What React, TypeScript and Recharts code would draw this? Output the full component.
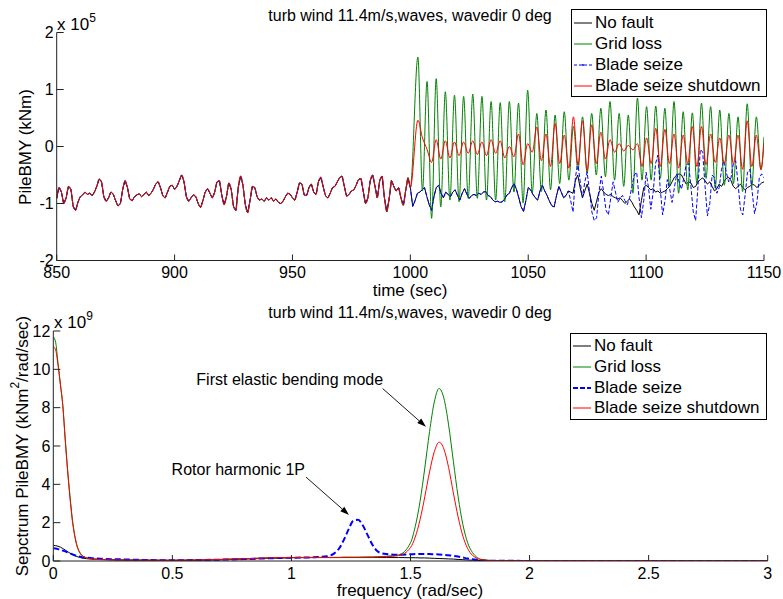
import { LineChart, Line, XAxis, YAxis, ReferenceLine, ReferenceDot } from 'recharts';

const FONT = '"Liberation Sans", Arial, Helvetica, sans-serif';
const AXIS = '#222';

// ---------- top plot: PileBMY time history (x 1e5 kNm) ----------
const timeTicks = [850, 900, 950, 1000, 1050, 1100, 1150];
const momentTicks = [-2, -1, 0, 1, 2];

// common signal before the fault, one sample per second from 850 s to 1000 s
const sampleStart = 850;
const preFault = [
  -0.91, -0.72, -0.8, -1.0, -0.9, -0.7, -0.75, -1.05, -1.12, -0.98,
  -0.88, -0.85, -0.8, -0.84, -0.82, -0.86, -0.8, -0.7, -0.57, -0.62,
  -0.88, -0.96, -0.9, -0.8, -0.84, -0.95, -1.04, -1.0, -0.75, -0.6,
  -0.72, -0.92, -0.95, -0.88, -0.85, -0.83, -0.88, -0.84, -0.8, -0.86,
  -0.82, -0.75, -0.66, -0.62, -0.72, -0.86, -0.9, -0.8, -0.7, -0.68,
  -0.75, -0.7, -0.6, -0.5, -0.62, -0.88, -0.96, -0.9, -0.85, -0.88,
  -1.0, -1.07, -0.95, -0.8, -0.74, -0.82, -0.9, -0.8, -0.62, -0.6,
  -0.85, -1.02, -0.88, -0.64, -0.75, -1.05, -1.12, -0.72, -0.52, -0.68,
  -1.02, -1.16, -0.95, -0.7, -0.72, -0.88, -0.94, -0.92, -0.96, -0.9,
  -0.94, -0.9, -0.96, -0.92, -0.98, -1.0, -0.96, -0.88, -0.82, -0.84,
  -0.9, -0.94, -0.8, -0.64, -0.66, -0.85, -0.86, -0.72, -0.66, -0.8,
  -0.84, -0.62, -0.54, -0.7, -0.86, -0.9, -0.82, -0.72, -0.7, -0.62,
  -0.55, -0.52, -0.7, -0.87, -0.84, -0.78, -0.76, -0.68, -0.58, -0.56,
  -0.78, -1.0, -0.9, -0.6, -0.5, -0.7, -0.9, -0.6, -0.52, -0.9,
  -1.14, -0.92, -0.6, -0.7, -0.78, -0.72, -0.9, -1.03, -0.78, -0.55,
  -0.72,
];

// no fault, 1001 s .. 1150 s
const noFaultAfter = [
  -1.05, -0.95, -0.82, -0.8, -0.76, -0.72, -0.88, -1.02, -1.12, -0.88,
  -0.72, -0.68, -0.82, -0.9, -0.8, -0.84, -0.88, -0.8, -0.76, -0.86,
  -0.94, -0.82, -0.74, -0.84, -0.91, -0.86, -0.84, -0.86, -0.82, -0.84,
  -0.8, -0.79, -0.86, -0.88, -0.94, -0.97, -0.96, -0.98, -0.97, -0.92,
  -0.85, -0.82, -0.72, -0.65, -0.75, -0.9, -1.06, -1.14, -0.95, -0.72,
  -0.76, -0.84, -0.9, -0.94, -0.78, -0.68, -0.78, -0.86, -0.96, -1.04,
  -1.06, -0.86, -0.7, -0.8, -0.9, -0.86, -0.78, -0.8, -0.82, -0.6,
  -0.5, -0.72, -0.9, -0.78, -0.66, -0.82, -1.0, -1.12, -0.96, -0.8,
  -0.74, -0.8, -0.84, -0.86, -0.84, -0.88, -0.9, -0.92, -0.9, -0.95,
  -1.0, -0.96, -0.92, -0.98, -1.06, -1.12, -1.2, -0.95, -0.72, -0.68,
  -0.72, -0.76, -0.74, -0.8, -0.78, -0.82, -0.8, -0.78, -0.74, -0.7,
  -0.62, -0.54, -0.5, -0.48, -0.5, -0.58, -0.66, -0.62, -0.64, -0.72,
  -0.7, -0.62, -0.58, -0.55, -0.6, -0.66, -0.62, -0.7, -0.78, -0.74,
  -0.66, -0.7, -0.62, -0.56, -0.54, -0.6, -0.7, -0.74, -0.7, -0.66,
  -0.72, -0.76, -0.72, -0.7, -0.66, -0.68, -0.72, -0.68, -0.64, -0.62,
];

// blade seize follows no fault until 1067 s, then 1068 s .. 1150 s
const bladeSeizeFrom = 1068;
const bladeSeizeAfter = [
  -0.95, -1.15, -0.55, -0.28, -0.6, -0.9, -0.62, -0.45, -0.8, -1.15,
  -1.3, -1.25, -0.8, -0.52, -0.8, -1.12, -1.2, -0.9, -0.62, -0.8,
  -0.98, -0.9, -0.86, -0.95, -1.02, -0.9, -0.7, -0.5, -0.45, -0.9,
  -1.25, -0.95, -0.45, -0.72, -1.1, -0.8, -0.3, -0.15, -0.75, -1.2,
  -0.95, -0.58, -0.75, -0.98, -0.72, -0.48, -0.62, -0.75, -0.55, -0.32,
  -0.3, -0.7, -1.15, -1.3, -0.7, -0.05, -0.1, -0.7, -1.22, -1.0,
  -0.5, -0.55, -0.82, -0.72, -0.4, -0.25, -0.45, -0.62, -0.55, -0.3,
  -0.25, -0.65, -1.1, -1.2, -0.85, -0.45, -0.4, -0.8, -1.18, -0.98,
  -0.55, -0.48, -0.55,
];

// grid loss / shutdown swing: extremes every half period of the first bending mode
const swingStart = 1003.2;
const swingHalfPeriod = 1.94;
const gridLossPeaks = [
  1.57, 1.14, 1.19, 0.96, 0.9, 0.88, 0.92, 0.88, 0.79, 0.77,
  0.79, 0.76, 0.99, 0.58, 0.64, 0.55, 0.61, 0.35, 0.52, 0.58,
  0.67, 0.79, 0.58, 0.55, 0.85, 0.7, 0.71, 0.67, 0.79, 0.61,
  0.59, 0.76, 0.7, 0.64, 0.58, 0.52, 0.75, 0.52,
];
const gridLossTroughs = [
  -0.78, -1.26, -1.06, -0.94, -0.97, -0.91, -0.91, -0.94, -0.94, -0.97,
  -0.8, -0.99, -0.82, -0.79, -0.76, -0.65, -0.59, -0.41, -0.47, -0.5,
  -0.53, -0.59, -0.7, -0.82, -0.59, -0.59, -0.56, -0.7, -0.82, -0.76,
  -0.65, -0.56, -0.73, -0.68, -0.65, -0.79, -0.7, -0.41,
];
const gridLossEnd = 0.17;
const shutdownPeaks = [
  0.46, -0.05, 0.12, 0.1, 0.08, 0.08, 0.1, 0.08, 0.12, 0.1,
  0.0, 0.22, 0.05, 0.34, 0.22, 0.4, 0.2, 0.52, 0.45, 0.38,
  0.25, 0.12, 0.05, 0.02, 0.05, 0.15, 0.32, 0.3, 0.22, 0.2,
  0.35, 0.35, 0.22, 0.15, 0.2, 0.2, 0.45, 0.2,
];
const shutdownTroughs = [
  0.15, -0.28, -0.22, -0.2, -0.16, -0.12, -0.14, -0.16, -0.12, -0.2,
  -0.18, -0.32, -0.1, -0.25, -0.35, -0.3, -0.38, -0.32, -0.42, -0.3,
  -0.22, -0.1, -0.08, -0.06, -0.35, -0.3, -0.35, -0.3, -0.38, -0.3,
  -0.35, -0.32, -0.28, -0.3, -0.3, -0.4, -0.35, -0.4,
];
const shutdownEnd = 0.05;

// ---------- bottom plot: spectrum (x 1e9 kNm^2/rad/sec) ----------
const freqTicks = [0, 0.5, 1, 1.5, 2, 2.5, 3];
const spectrumTicks = [0, 2, 4, 6, 8, 10, 12];
const freq = [
  0, 0.01, 0.02, 0.03, 0.04, 0.05, 0.06, 0.07, 0.08, 0.09, 0.1, 0.11, 0.12, 0.14, 0.16, 0.2,
  0.3, 0.4, 0.5, 0.6, 0.7, 0.8, 0.9, 1.0, 1.1, 1.15, 1.18, 1.2, 1.22, 1.24, 1.26, 1.28, 1.3,
  1.32, 1.34, 1.36, 1.38, 1.4, 1.45, 1.5, 1.52, 1.54, 1.56, 1.58, 1.6, 1.62, 1.64, 1.66, 1.68,
  1.7, 1.72, 1.74, 1.76, 1.8, 1.85, 1.9, 2.0, 2.5, 3.0,
];
const specNoFault = [
  0.82, 0.8, 0.77, 0.72, 0.65, 0.57, 0.49, 0.41, 0.34, 0.28, 0.23, 0.19, 0.16, 0.12, 0.1, 0.08,
  0.05, 0.04, 0.03, 0.04, 0.06, 0.1, 0.14, 0.17, 0.18, 0.18, 0.18, 0.18, 0.18, 0.18, 0.18, 0.18, 0.18,
  0.18, 0.18, 0.18, 0.18, 0.18, 0.18, 0.17, 0.17, 0.16, 0.16, 0.15, 0.14, 0.13, 0.12, 0.11, 0.1,
  0.08, 0.07, 0.05, 0.04, 0.02, 0.01, 0.01, 0.005, 0.003, 0.003,
];
const specGridLoss = [
  11.7, 11.4, 10.3, 9.2, 8.1, 6.4, 4.8, 3.4, 2.2, 1.35, 0.8, 0.48, 0.3, 0.17, 0.12, 0.08,
  0.05, 0.04, 0.04, 0.05, 0.08, 0.12, 0.16, 0.18, 0.19, 0.19, 0.19, 0.19, 0.2, 0.2, 0.2, 0.2, 0.2,
  0.21, 0.21, 0.22, 0.23, 0.25, 0.32, 0.95, 1.8, 3.1, 4.85, 6.75, 8.3, 9.0, 8.5, 7.1, 5.2,
  3.35, 1.9, 0.95, 0.45, 0.08, 0.02, 0.01, 0.01, 0.005, 0.005,
];
const specBladeSeize = [
  0.66, 0.65, 0.62, 0.58, 0.54, 0.5, 0.45, 0.4, 0.35, 0.3, 0.26, 0.23, 0.2, 0.17, 0.15, 0.12,
  0.08, 0.05, 0.04, 0.05, 0.07, 0.1, 0.14, 0.17, 0.2, 0.25, 0.4, 0.65, 1.1, 1.65, 2.1, 2.15, 1.85,
  1.35, 0.85, 0.52, 0.4, 0.36, 0.33, 0.35, 0.36, 0.37, 0.37, 0.36, 0.35, 0.34, 0.32, 0.3, 0.27,
  0.23, 0.18, 0.13, 0.09, 0.03, 0.01, 0.01, 0.005, 0.003, 0.003,
];
const specShutdown = [
  11.2, 11.0, 10.2, 9.2, 8.1, 6.3, 4.7, 3.3, 2.1, 1.3, 0.75, 0.45, 0.28, 0.16, 0.11, 0.07,
  0.05, 0.04, 0.04, 0.05, 0.08, 0.12, 0.16, 0.18, 0.18, 0.18, 0.18, 0.18, 0.19, 0.19, 0.19, 0.19, 0.2,
  0.2, 0.2, 0.21, 0.22, 0.23, 0.28, 0.7, 1.25, 2.15, 3.35, 4.65, 5.7, 6.2, 5.85, 4.88, 3.55,
  2.3, 1.3, 0.65, 0.3, 0.06, 0.02, 0.01, 0.01, 0.005, 0.005,
];

// annotation anchors, in data units of the spectrum plot
const modeLabel = { f: 1.385, s: 9.5, text: 'First elastic bending mode' };
const modeArrow = [{ x: 1.383, y: 9.0 }, { x: 1.565, y: 7.0 }];
const rotorLabel = { f: 1.057, s: 4.8, text: 'Rotor harmonic 1P' };
const rotorArrow = [{ x: 1.061, y: 4.38 }, { x: 1.242, y: 2.4 }];

const seriesNames = ['No fault', 'Grid loss', 'Blade seize', 'Blade seize shutdown'];

// ---------- building the series ----------
type Pt = { t: number; v: number };
const preSeries: Pt[] = preFault.map((v, i) => ({ t: sampleStart + i, v }));
const after = (vals: number[], from: number): Pt[] => vals.map((v, i) => ({ t: from + i, v }));
const swing = (peaks: number[], troughs: number[]): Pt[] =>
  peaks.flatMap((p, i) => [p, troughs[i]]).map((v, k) => ({ t: swingStart + swingHalfPeriod * k, v }));

const noFaultSeries = [...preSeries, ...after(noFaultAfter, 1001)];
const bladeSeizeSeries = [
  ...preSeries,
  ...after(noFaultAfter.slice(0, bladeSeizeFrom - 1001), 1001),
  ...after(bladeSeizeAfter, bladeSeizeFrom),
];
const gridLossSeries = [...preSeries, ...swing(gridLossPeaks, gridLossTroughs), { t: 1150, v: gridLossEnd }];
const shutdownSeries = [...preSeries, ...swing(shutdownPeaks, shutdownTroughs), { t: 1150, v: shutdownEnd }];

const spectrumData = freq.map((f, i) => ({
  f,
  noFault: specNoFault[i],
  gridLoss: specGridLoss[i],
  bladeSeize: specBladeSeize[i],
  shutdown: specShutdown[i],
}));

// ---------- small drawing helpers ----------
const XTick = (props: any) => {
  const { x, y, payload } = props;
  return (
    <g>
      <line x1={x} y1={y} x2={x} y2={y - 6} stroke={AXIS} />
      <text x={x} y={y + 12} textAnchor="middle" dominantBaseline="central" fontSize={16} fontFamily={FONT} fill="#000">
        {String(payload.value)}
      </text>
    </g>
  );
};

const YTick = (props: any) => {
  const { x, y, payload } = props;
  return (
    <g>
      <line x1={x} y1={y} x2={x + 7} y2={y} stroke={AXIS} />
      <text x={x - 3} y={y} textAnchor="end" dominantBaseline="central" fontSize={16} fontFamily={FONT} fill="#000">
        {String(payload.value)}
      </text>
    </g>
  );
};

const Arrow = (props: any) => {
  const { x1, y1, x2, y2 } = props;
  const a = Math.atan2(y2 - y1, x2 - x1);
  const bx = x2 - 9 * Math.cos(a);
  const by = y2 - 9 * Math.sin(a);
  const px = -Math.sin(a) * 3;
  const py = Math.cos(a) * 3;
  return (
    <g>
      <line x1={x1} y1={y1} x2={bx} y2={by} stroke="#000" strokeWidth={0.9} />
      <polygon points={`${x2},${y2} ${bx + px},${by + py} ${bx - px},${by - py}`} fill="#000" />
    </g>
  );
};

type Sample = { color: string; dash?: string; width: number; dot?: boolean };

const LegendBox = ({ left, top, width, height, samples, rowGap }: {
  left: number; top: number; width: number; height: number; samples: Sample[]; rowGap: number;
}) => (
  <div
    style={{
      position: 'absolute', left, top, width, height, boxSizing: 'border-box',
      border: '1px solid #000', background: '#fff', fontFamily: FONT, fontSize: 17,
      paddingTop: 2, color: '#000',
    }}
  >
    {samples.map((s, i) => (
      <div key={seriesNames[i]} style={{ display: 'flex', alignItems: 'center', height: rowGap, whiteSpace: 'nowrap' }}>
        <svg width={21} height={10} style={{ marginLeft: 1, flex: 'none' }}>
          <line x1={1} y1={5} x2={19} y2={5} stroke={s.color} strokeWidth={s.width} strokeDasharray={s.dash} />
          {s.dot ? <circle cx={10} cy={5} r={1} fill={s.color} /> : null}
        </svg>
        <span style={{ marginLeft: 1 }}>{seriesNames[i]}</span>
      </div>
    ))}
  </div>
);

const txt = { fontFamily: FONT, fill: '#000' } as const;

export default function App() {
  return (
    <div style={{ position: 'fixed', left: 0, top: 0, width: 783, height: 599, background: '#fff', overflow: 'hidden' }}>
      <div style={{ position: 'absolute', left: 0, top: 0 }}>
        <LineChart width={783} height={300} margin={{ top: 32.5, right: 19, bottom: 38.5, left: 55.7 }}>
          <XAxis
            type="number" dataKey="t" domain={[850, 1150]} ticks={timeTicks} interval={0}
            height={1} tickSize={0} tickMargin={0} tickLine={false} axisLine={{ stroke: AXIS }}
            tick={(p: any) => <XTick {...p} />} allowDataOverflow
          />
          <YAxis
            type="number" domain={[-2, 2]} ticks={momentTicks} interval={0}
            width={1} tickSize={0} tickMargin={0} tickLine={false} axisLine={{ stroke: AXIS }}
            tick={(p: any) => <YTick {...p} />} allowDataOverflow
          />
          <Line data={noFaultSeries} dataKey="v" type="linear" stroke="#000" strokeWidth={1} dot={false} isAnimationActive={false} />
          <Line data={gridLossSeries} dataKey="v" type="monotone" stroke="#008000" strokeWidth={1} dot={false} isAnimationActive={false} />
          <Line data={bladeSeizeSeries} dataKey="v" type="linear" stroke="#0000ff" strokeWidth={1} strokeDasharray="4 2" dot={false} isAnimationActive={false} />
          <Line data={shutdownSeries} dataKey="v" type="monotone" stroke="#ff0000" strokeWidth={1} dot={false} isAnimationActive={false} />
        </LineChart>
      </div>

      <div style={{ position: 'absolute', left: 0, top: 0 }}>
        <LineChart width={783} height={599} data={spectrumData} margin={{ top: 331, right: 15.3, bottom: 37, left: 52.3 }}>
          <XAxis
            type="number" dataKey="f" domain={[0, 3]} ticks={freqTicks} interval={0}
            height={1} tickSize={0} tickMargin={0} tickLine={false} axisLine={{ stroke: AXIS }}
            tick={(p: any) => <XTick {...p} />} allowDataOverflow
          />
          <YAxis
            type="number" domain={[0, 12]} ticks={spectrumTicks} interval={0}
            width={1} tickSize={0} tickMargin={0} tickLine={false} axisLine={{ stroke: AXIS }}
            tick={(p: any) => <YTick {...p} />} allowDataOverflow
          />
          <Line dataKey="noFault" type="monotone" stroke="#000" strokeWidth={1} dot={false} isAnimationActive={false} />
          <Line dataKey="gridLoss" type="monotone" stroke="#008000" strokeWidth={1} dot={false} isAnimationActive={false} />
          <Line dataKey="bladeSeize" type="monotone" stroke="#0000ff" strokeWidth={2} strokeDasharray="6 3" dot={false} isAnimationActive={false} />
          <Line dataKey="shutdown" type="monotone" stroke="#ff0000" strokeWidth={1} dot={false} isAnimationActive={false} />
          <ReferenceLine segment={modeArrow} ifOverflow="visible" shape={(p: any) => <Arrow {...p} />} />
          <ReferenceLine segment={rotorArrow} ifOverflow="visible" shape={(p: any) => <Arrow {...p} />} />
          <ReferenceDot
            x={modeLabel.f} y={modeLabel.s} r={0} fill="none" stroke="none" ifOverflow="visible"
            label={{ value: modeLabel.text, position: 'left', offset: 0, fontSize: 16, fontFamily: FONT, fill: '#000' }}
          />
          <ReferenceDot
            x={rotorLabel.f} y={rotorLabel.s} r={0} fill="none" stroke="none" ifOverflow="visible"
            label={{ value: rotorLabel.text, position: 'left', offset: 0, fontSize: 16, fontFamily: FONT, fill: '#000' }}
          />
        </LineChart>
      </div>

      <svg width={783} height={599} style={{ position: 'absolute', left: 0, top: 0, pointerEvents: 'none' }}>
        <text x={410} y={15} textAnchor="middle" dominantBaseline="central" fontSize={16} {...txt}>
          turb wind 11.4m/s,waves, wavedir 0 deg
        </text>
        <text x={57} y={29.5} fontSize={17} {...txt}>
          x 10<tspan dy={-8} fontSize={12}>5</tspan>
        </text>
        <text x={410} y={290} textAnchor="middle" dominantBaseline="central" fontSize={17} {...txt}>time (sec)</text>
        <text transform="translate(25,147) rotate(-90)" textAnchor="middle" dominantBaseline="central" fontSize={17} {...txt}>
          PileBMY (kNm)
        </text>

        <text x={410} y={312} textAnchor="middle" dominantBaseline="central" fontSize={16} {...txt}>
          turb wind 11.4m/s,waves, wavedir 0 deg
        </text>
        <text x={54} y={328} fontSize={17} {...txt}>
          x 10<tspan dy={-8} fontSize={12}>9</tspan>
        </text>
        <text x={410} y={590} textAnchor="middle" dominantBaseline="central" fontSize={17} {...txt}>frequency (rad/sec)</text>
        <text transform="translate(22,446) rotate(-90)" textAnchor="middle" dominantBaseline="central" fontSize={17} {...txt}>
          Sepctrum PileBMY (kNm<tspan dy={-7} fontSize={12}>2</tspan><tspan dy={7}>/rad/sec)</tspan>
        </text>
      </svg>

      <LegendBox
        left={571} top={9} width={196} height={88} rowGap={21}
        samples={[
          { color: '#000', width: 1 },
          { color: '#008000', width: 1 },
          { color: '#0000ff', width: 1, dash: '3 2', dot: true },
          { color: '#ff0000', width: 1 },
        ]}
      />
      <LegendBox
        left={570} top={333} width={197} height={87} rowGap={20.7}
        samples={[
          { color: '#000', width: 1 },
          { color: '#008000', width: 1 },
          { color: '#0000ff', width: 2, dash: '5 2' },
          { color: '#ff0000', width: 1 },
        ]}
      />
    </div>
  );
}
